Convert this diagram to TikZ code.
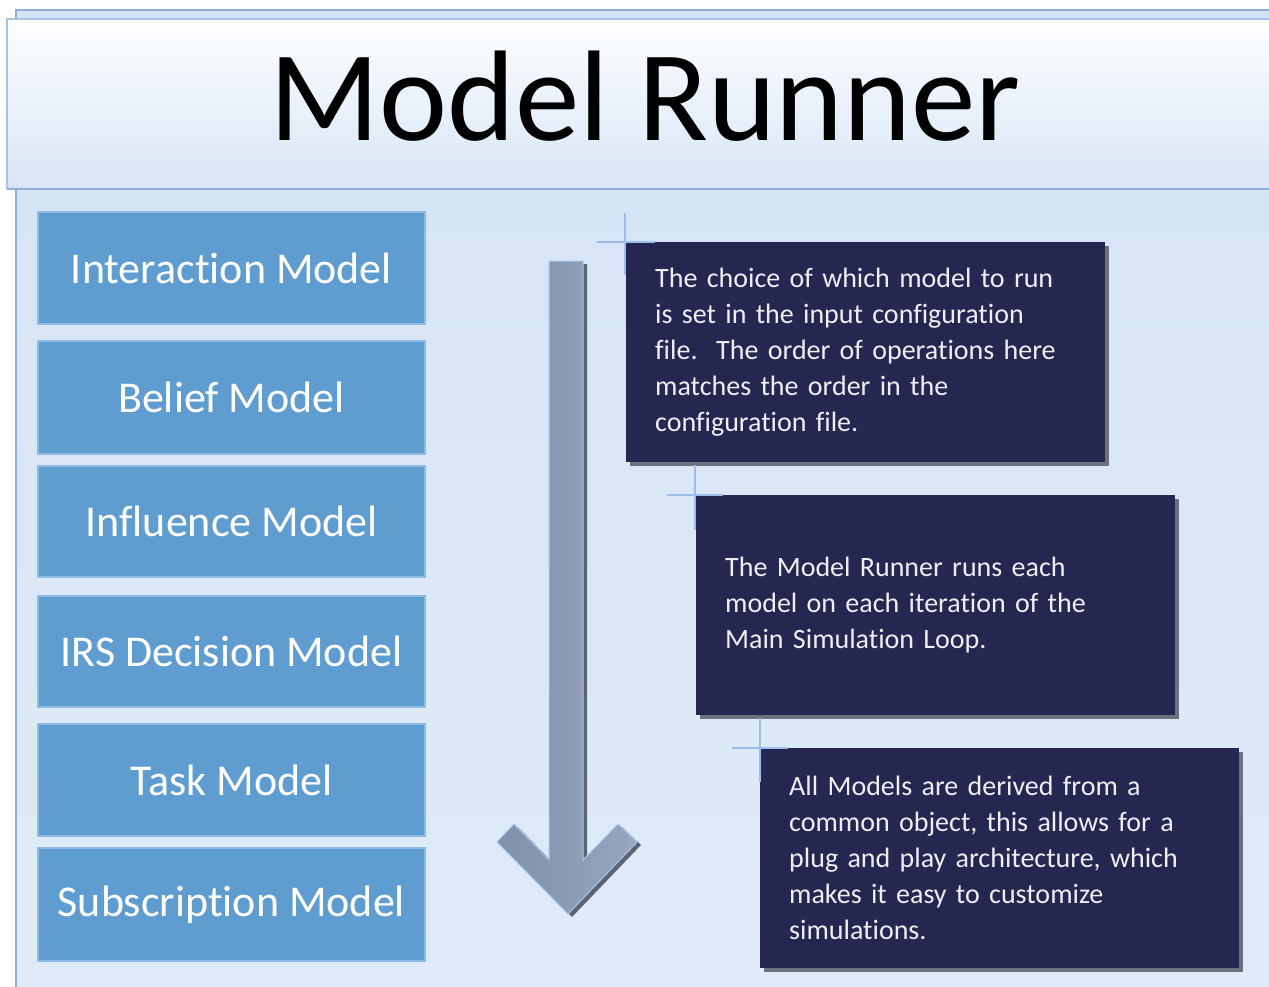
\documentclass[tikz,border=0pt]{standalone}
\usepackage{fontspec}
\setmainfont{Carlito}[Ligatures=NoCommon]
\frenchspacing
\begin{document}
\begin{tikzpicture}[x=1pt,y=-1pt,
  modelbox/.style={draw=boxline, line width=1.5pt, fill=boxfill, text=white,
    minimum width=387pt, inner sep=0pt, font=\fontsize{44}{50}\selectfont},
  callout/.style={fill=calfill, text=caltext, minimum width=479pt, minimum height=220pt,
    inner xsep=29pt, inner ysep=0pt, text width=421pt, align=left,
    font=\fontsize{28}{36}\selectfont, anchor=north west},
  calshadow/.style={fill=shadowgray},
  cropline/.style={draw=cropblue, line width=1.2pt}
]
\definecolor{panelA}{HTML}{D4E3F5}
\definecolor{panelB}{HTML}{DFEBF8}
\definecolor{panelline}{HTML}{8FAFD9}
\definecolor{titleA}{HTML}{FDFEFF}
\definecolor{titleB}{HTML}{D8E5F5}
\definecolor{titleline}{HTML}{A9C3E6}
\definecolor{boxfill}{HTML}{5F9DD1}
\definecolor{boxline}{HTML}{8DBAE6}
\definecolor{calfill}{HTML}{262751}
\definecolor{caltext}{HTML}{EEEEF4}
\definecolor{shadowgray}{HTML}{6C727D}
\definecolor{cropblue}{HTML}{9DBEEC}
\definecolor{arrowA}{HTML}{7F90AA}
\definecolor{arrowB}{HTML}{97A6BE}
\definecolor{arrowline}{HTML}{A8C6EE}
\definecolor{arrowshadow}{HTML}{5C6472}

\useasboundingbox (0,0) rectangle (1269,987);
\clip (0,0) rectangle (1269,987);
\fill[white] (0,0) rectangle (1269,987);

% background panel
\shade[top color=panelA, bottom color=panelB] (16,10) rectangle (1290,1000);
\draw[panelline, line width=1.5pt] (16,1000) -- (16,10) -- (1290,10);

% title box
\shade[top color=titleA, bottom color=titleB] (7,19) rectangle (1290,189);
\draw[titleline, line width=1.2pt] (1290,19) -- (7,19) -- (7,189);
\draw[panelline, line width=1.5pt] (7,189) -- (1290,189);
\node[font=\fontsize{129}{134}\selectfont, text=black, anchor=base] (title) at (645,141) {Model Runner};

% model boxes
\node[modelbox, minimum height=112pt] (m1) at (231.5,268) {Interaction Model};
\node[modelbox, minimum height=113pt] (m2) at (231.5,397.5) {Belief Model};
\node[modelbox, minimum height=111pt] (m3) at (231.5,521.5) {Influence Model};
\node[modelbox, minimum height=111pt] (m4) at (231.5,651.5) {IRS Decision Model};
\node[modelbox, minimum height=112pt] (m5) at (231.5,780) {Task Model};
\node[modelbox, minimum height=113pt] (m6) at (231.5,904.5) {Subscription Model};

% big down arrow
\fill[arrowshadow] ([shift={(4,3)}]549,261) -- ([shift={(4,3)}]583,261) -- ([shift={(4,3)}]583,860) -- ([shift={(4,3)}]618,824) -- ([shift={(4,3)}]637,842) -- ([shift={(4,3)}]568,914) -- ([shift={(4,3)}]497,842) -- ([shift={(4,3)}]514,824) -- ([shift={(4,3)}]549,860) -- cycle;
\shade[left color=arrowA, right color=arrowB, draw=arrowline, line width=1pt]
  (549,261) -- (583,261) -- (583,860) -- (618,824) -- (637,842) -- (568,914) -- (497,842) -- (514,824) -- (549,860) -- cycle;

% callouts
\fill[calshadow] (630,246) rectangle (1109,466);
\node[callout] (c1) at (626,242) {The choice of which model to run\\is set in the input configuration\\file.~ The order of operations here\\matches the order in the\\configuration file.};
\fill[calshadow] (700,499) rectangle (1179,719);
\node[callout] (c2) at (696,495) {The Model Runner runs each\\model on each iteration of the\\Main Simulation Loop.};
\fill[calshadow] (764,752) rectangle (1243,972);
\node[callout] (c3) at (760,748) {All Models are derived from a\\common object, this allows for a\\plug and play architecture, which\\makes it easy to customize\\simulations.};

% crop marks
\draw[cropline] (597,242) -- (c1.north west) -- ++(29,0);
\draw[cropline] (625,213) -- (625,275);
\draw[cropline] (667,495) -- (c2.north west) -- ++(27,0);
\draw[cropline] (695,465) -- (695,530);
\draw[cropline] (732,748) -- (c3.north west) -- ++(28,0);
\draw[cropline] (760,718) -- (760,782);
\end{tikzpicture}
\end{document}
